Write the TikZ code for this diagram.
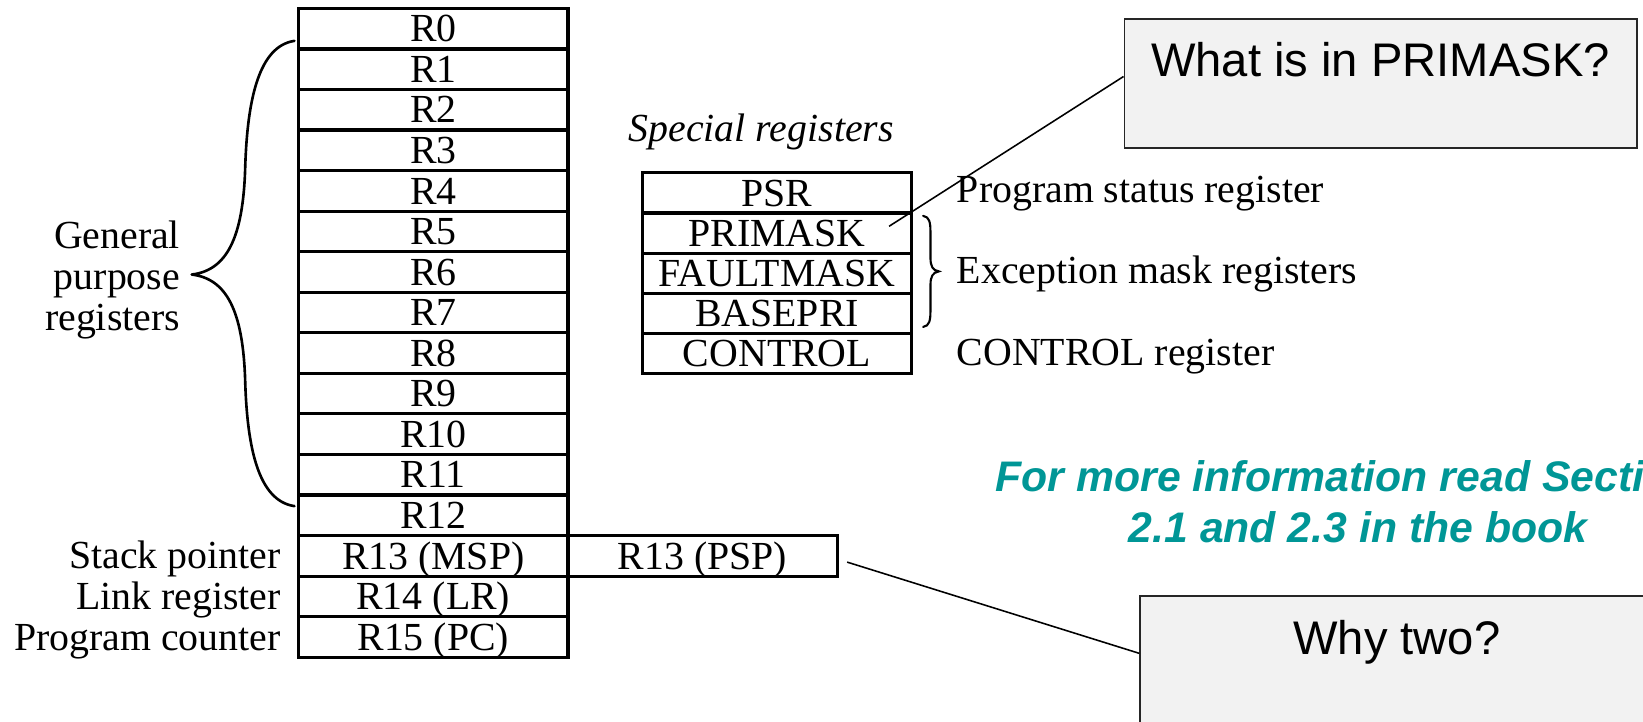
\documentclass[tikz,border=0pt]{standalone}
\usepackage{fontspec}
\setmainfont{Liberation Serif}
\newfontfamily\arialfont{Liberation Sans}
\definecolor{noteteal}{RGB}{0,150,150}
\definecolor{boxfill}{RGB}{242,242,242}
\newcommand\regfont{\fontsize{38}{39}\selectfont}
\newcommand\askfont{\arialfont\fontsize{45}{50}\selectfont}
\newcommand\notefont{\arialfont\bfseries\itshape\fontsize{40.8}{49}\selectfont}
\begin{document}
\begin{tikzpicture}[x=1pt,y=-1pt,
  reg/.style={draw,line width=3pt,minimum width=257pt,minimum height=38.7pt,inner sep=0pt,
              text height=25.2pt,text depth=0pt,font=\regfont},
  sreg/.style={reg,minimum height=38.3pt},
  lbl/.style={inner sep=0pt,font=\regfont},
  callout/.style={draw=black!85,line width=1.5pt,fill=boxfill,inner sep=0pt},
  ask/.style={inner sep=0pt,font=\askfont},
  note/.style={inner sep=0pt,font=\notefont,text=noteteal},
  brace/.style={line width=2.5pt,line cap=round,line join=round},
  link/.style={line width=1.5pt}]

\useasboundingbox (0,0) rectangle (1568,689);
\clip (0,0) rectangle (1568,689);

% general purpose register file
\foreach \i/\t in {0/R0,1/R1,2/R2,3/R3,4/R4,5/R5,6/R6,7/R7,8/R8,9/R9,10/R10,11/R11,12/R12,
                   13/R13 (MSP),14/R14 (LR),15/R15 (PC)}
  \node[reg] (r\i) at (413.5,{8+38.7*(\i+0.5)}) {\t};
\node[reg] (psp) at (670.5,{8+38.7*13.5}) {R13 (PSP)};

% left side labels
\node[lbl,align=right,anchor=east] (gp) at (172,267) {General\\purpose\\registers};
\node[lbl,anchor=base east] (sp) at (268,543) {Stack pointer};
\node[lbl,anchor=base east] (lr) at (268,582) {Link register};
\node[lbl,anchor=base east] (pc) at (268,620.5) {Program counter};

% brace over R0..R11
\draw[brace] (281,39) .. controls (247,44) and (236,95) .. (234,160)
  .. controls (232,228) and (216,258) .. (183,262)
  .. controls (216,266) and (232,296) .. (234,364)
  .. controls (236,429) and (247,478) .. (281,483);

% special registers
\node[lbl,anchor=base,font=\regfont\itshape] (sptitle) at (726.5,135) {Special registers};
\foreach \i/\t in {0/PSR,1/PRIMASK,2/FAULTMASK,3/BASEPRI,4/CONTROL}
  \node[sreg] (s\i) at (741.5,{165+38.3*(\i+0.5)}) {\t};

\node[lbl,anchor=base west] (psrl) at (913,193) {Program status register};
\node[lbl,anchor=base west] (excl) at (913,270.5) {Exception mask registers};
\node[lbl,anchor=base west] (ctll) at (913,348.5) {CONTROL register};

% brace over the mask registers
\draw[line width=2pt,line cap=round] (881,206) .. controls (887,207) and (888,212) .. (888,222)
  -- (888,246) .. controls (888,254) and (890,258) .. (896,259)
  .. controls (890,260) and (888,264) .. (888,272)
  -- (888,296) .. controls (888,306) and (887,311) .. (881,312);

% question boxes
\node[callout,minimum width=489pt,minimum height=123pt] (q1) at (1317.5,79.5) {};
\node[ask,anchor=base] (q1t) at (1317.5,73) {What is in PRIMASK?};
\node[callout,minimum width=490pt,minimum height=123pt] (q2) at (1333,630.5) {};
\node[ask,anchor=base] (q2t) at (1333,625) {Why two?};

\coordinate (pmk) at ([xshift=-23pt,yshift=6.5pt]s1.east);
\draw[link] (pmk) -- ([yshift=6.5pt]q1.west);
\draw[link] ([xshift=8pt,yshift=-6pt]psp.east) -- ([yshift=7pt]q2.west);

% reading note
\node[note,anchor=base] (n1) at (1296,469) {For more information read Sections};
\node[note,anchor=base] (n2) at (1296,518) {2.1 and 2.3 in the book};
\end{tikzpicture}
\end{document}
